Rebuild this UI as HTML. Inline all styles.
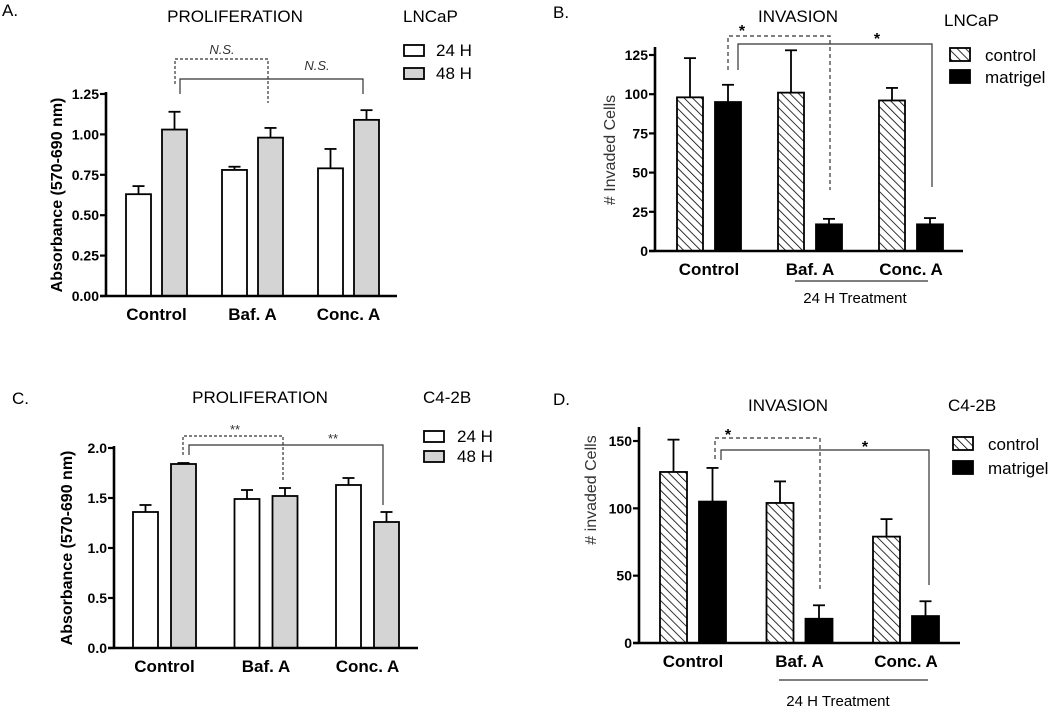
<!DOCTYPE html>
<html><head><meta charset="utf-8">
<style>
html,body{margin:0;padding:0;background:#fff;}
svg{display:block;font-family:"Liberation Sans",Arial,sans-serif;}
</style></head>
<body>
<svg id="fig" width="1050" height="706" viewBox="0 0 1050 706" xmlns="http://www.w3.org/2000/svg">
<defs>
<pattern id="hatch" patternUnits="userSpaceOnUse" width="6" height="6" patternTransform="rotate(-45)">
<rect width="6" height="6" fill="#fff"/><line x1="0" y1="0" x2="0" y2="6" stroke="#000" stroke-width="1.6"/>
</pattern>
</defs>
</svg>
<script>
// Panel A data
const aCats = ["Control","Baf. A","Conc. A"];
const a24 = [0.63,0.78,0.79];
const a24err = [0.05,0.02,0.12];
const a48 = [1.03,0.98,1.09];
const a48err = [0.11,0.06,0.06];
const aTicks = ["0.00","0.25","0.50","0.75","1.00","1.25"];
// Panel B data
const bCats = ["Control","Baf. A","Conc. A"];
const bCtrl = [98,101,96];
const bCtrlErr = [25,27,8];
const bMat = [95,17,17];
const bMatErr = [11,3.5,4];
const bTicks = ["0","25","50","75","100","125"];
// Panel C data
const cCats = ["Control","Baf. A","Conc. A"];
const c24 = [1.36,1.49,1.63];
const c24err = [0.07,0.09,0.07];
const c48 = [1.84,1.52,1.26];
const c48err = [0.01,0.08,0.10];
const cTicks = ["0.0","0.5","1.0","1.5","2.0"];
// Panel D data
const dCats = ["Control","Baf. A","Conc. A"];
const dCtrl = [127,104,79];
const dCtrlErr = [24,16,13];
const dMat = [105,18,20];
const dMatErr = [25,10,11];
const dTicks = ["0","50","100","150"];

const NS="http://www.w3.org/2000/svg";
const svg=document.getElementById('fig');
function el(tag,attrs,parent,text){const e=document.createElementNS(NS,tag);for(const k in attrs)e.setAttribute(k,attrs[k]);if(text!==undefined)e.textContent=text;(parent||svg).appendChild(e);return e;}

function panel(p){
  const g=el('g',{});
  
  
  const yScale=v=>p.y0-(v-p.vmin)/(p.vmax-p.vmin)*(p.y0-p.yTop);
  p.cats.forEach((c,i)=>{
    [[p.s1,p.e1,p.f1,0],[p.s2,p.e2,p.f2,1]].forEach(([s,e,f,k])=>{
      const x=p.x0+p.groupStart+i*p.groupGap+k*(p.bw+p.pairGap);
      const y=yScale(s[i]);
      const ey=yScale(s[i]+e[i]);
      const cx=x+p.bw/2;
      const eb=el('line',{x1:cx,y1:y,x2:cx,y2:ey,stroke:'#000','stroke-width':1.8},g);
      
      
      const cap=el('line',{x1:cx-6,y1:ey,x2:cx+6,y2:ey,stroke:'#000','stroke-width':1.8},g);
      
      
      const r=el('rect',{x:x,y:y,width:p.bw,height:p.y0-y,fill:f,stroke:'#000','stroke-width':1.8},g);
      
      
    });
    const t=el('text',{x:p.x0+p.groupStart+i*p.groupGap+p.bw+p.pairGap/2,y:p.y0+24,'text-anchor':'middle','font-weight':'bold','font-size':17},g,c);
    
    
  });
  const ya=el('line',{x1:p.x0,y1:p.axisTop,x2:p.x0,y2:p.y0+1,stroke:'#000','stroke-width':2.6},g);
  
  
  const xa=el('line',{x1:p.x0-6,y1:p.y0,x2:p.xEnd,y2:p.y0,stroke:'#000','stroke-width':2.6},g);
  
  
  p.ticks.forEach(t=>{
    const y=yScale(parseFloat(t));
    const tk=el('line',{x1:p.x0-6,y1:y,x2:p.x0,y2:y,stroke:'#000','stroke-width':2.2},g);
    
    
    const tl=el('text',{x:p.x0-7,y:y+5,'text-anchor':'end','font-weight':'bold','font-size':14},g,t);
    
    
  });
  const yt=el('text',{x:0,y:0,transform:`translate(${p.ytx},${p.yty}) rotate(-90)`,'text-anchor':'middle','font-weight':p.ytBold?'bold':'normal','font-size':16,fill:p.ytColor||'#000'},g,p.ytitle);
  
  
}

function txt(x,y,s,attrs,name){const a=Object.assign({x:x,y:y},attrs||{});const t=el('text',a,svg,s);return t;}
function path(d,dash,name){const e=el('path',{d:d,fill:'none',stroke:'#333','stroke-width':1.2,'stroke-dasharray':dash||'none'});}
function legend(x,y1,y2,f1,f2,t1,t2,h,tx){
  const r1=el('rect',{x:x,y:y1,width:20,height:h,fill:f1,stroke:'#000','stroke-width':1.8});
  
  
  const r2=el('rect',{x:x,y:y2,width:20,height:h,fill:f2,stroke:'#000','stroke-width':1.8});
  
  
  txt(tx,y1+h,t1,{'font-size':17},'legend-entry-1');
  txt(tx,y2+h,t2,{'font-size':17},'legend-entry-2');
}

// Panel A
panel({name:'panel-a',cats:aCats,s1:a24,e1:a24err,s2:a48,e2:a48err,f1:'#fff',f2:'#d4d4d4',l1:'24h',l2:'48h',
  x0:106,y0:296,yTop:94,axisTop:92,xEnd:397,vmin:0,vmax:1.25,ticks:aTicks,groupStart:20,groupGap:96,bw:25,pairGap:11,
  ytitle:'Absorbance (570-690 nm)',ytx:62,yty:195,ytBold:true});
txt(2,16,'A.',{'font-size':17},'panel-label-a');
txt(235,22,'PROLIFERATION',{'font-size':17,'text-anchor':'middle'},'chart-title-a');
txt(403,22,'LNCaP',{'font-size':17},'cell-line-a');
legend(404,45,68,'#fff','#d4d4d4','24 H','48 H',11,436);
path('M175,84 V59 H268 V103','3,2','ns-bracket-1');
path('M180,94 V79 H363 V94',null,'ns-bracket-2');
txt(222,54,'N.S.',{'font-size':13,'font-style':'italic','text-anchor':'middle',fill:'#333'},'ns-label-1');
txt(317,70,'N.S.',{'font-size':13,'font-style':'italic','text-anchor':'middle',fill:'#333'},'ns-label-2');

// Panel B
panel({name:'panel-b',cats:bCats,s1:bCtrl,e1:bCtrlErr,s2:bMat,e2:bMatErr,f1:'url(#hatch)',f2:'#000',l1:'control',l2:'matrigel',
  x0:655,y0:251,yTop:55,axisTop:47,xEnd:963,vmin:0,vmax:125,ticks:bTicks,groupStart:22,groupGap:101,bw:26,pairGap:12,
  ytitle:'# Invaded Cells',ytx:615,yty:150,ytBold:false,ytColor:'#333'});
txt(553,18,'B.',{'font-size':17},'panel-label-b');
txt(798,22,'INVASION',{'font-size':17,'text-anchor':'middle'},'chart-title-b');
txt(944,26,'LNCaP',{'font-size':17},'cell-line-b');
legend(950,48,70,'url(#hatch)','#000','control','matrigel',13,985);
path('M728,70 V36 H830 V190','4,3','sig-bracket-b1');
path('M738,70 V44 H932 V187',null,'sig-bracket-b2');
txt(742,36,'*',{'font-size':16,'font-weight':'bold','text-anchor':'middle'},'sig-star-b1');
txt(877,44,'*',{'font-size':16,'font-weight':'bold','text-anchor':'middle'},'sig-star-b2');
path('M795,281 H928',null,'treatment-line-b');
txt(855,303,'24 H Treatment',{'font-size':15,'text-anchor':'middle'},'treatment-label-b');

// Panel C
panel({name:'panel-c',cats:cCats,s1:c24,e1:c24err,s2:c48,e2:c48err,f1:'#fff',f2:'#d4d4d4',l1:'24h',l2:'48h',
  x0:114,y0:648,yTop:448,axisTop:446,xEnd:418,vmin:0,vmax:2,ticks:cTicks,groupStart:19,groupGap:101.5,bw:25,pairGap:13,
  ytitle:'Absorbance (570-690 nm)',ytx:72,yty:548,ytBold:true});
txt(12,404,'C.',{'font-size':17},'panel-label-c');
txt(260,403,'PROLIFERATION',{'font-size':17,'text-anchor':'middle'},'chart-title-c');
txt(423,403,'C4-2B',{'font-size':17},'cell-line-c');
legend(424,431,451,'#fff','#d4d4d4','24 H','48 H',11,457);
path('M183,455 V436 H283 V482','3,2','sig-bracket-c1');
path('M189,455 V445 H383 V505',null,'sig-bracket-c2');
txt(235,434,'**',{'font-size':13,'text-anchor':'middle',fill:'#333'},'sig-star-c1');
txt(333,443,'**',{'font-size':13,'text-anchor':'middle',fill:'#333'},'sig-star-c2');

// Panel D
panel({name:'panel-d',cats:dCats,s1:dCtrl,e1:dCtrlErr,s2:dMat,e2:dMatErr,f1:'url(#hatch)',f2:'#000',l1:'control',l2:'matrigel',
  x0:639,y0:643,yTop:441,axisTop:427,xEnd:960,vmin:0,vmax:150,ticks:dTicks,groupStart:21,groupGap:106.5,bw:27,pairGap:12,
  ytitle:'# invaded Cells',ytx:596,yty:490,ytBold:false,ytColor:'#333'});
txt(553,405,'D.',{'font-size':17},'panel-label-d');
txt(788,411,'INVASION',{'font-size':17,'text-anchor':'middle'},'chart-title-d');
txt(948,411,'C4-2B',{'font-size':17},'cell-line-d');
legend(953,437,461,'url(#hatch)','#000','control','matrigel',13,988);
path('M715,459 V438 H820 V590','4,3','sig-bracket-d1');
path('M721,460 V450 H929 V585',null,'sig-bracket-d2');
txt(728,440,'*',{'font-size':16,'font-weight':'bold','text-anchor':'middle'},'sig-star-d1');
txt(865,452,'*',{'font-size':16,'font-weight':'bold','text-anchor':'middle'},'sig-star-d2');
path('M779,680 H928',null,'treatment-line-d');
txt(838,706,'24 H Treatment',{'font-size':15,'text-anchor':'middle'},'treatment-label-d');
</script>
</body></html>
